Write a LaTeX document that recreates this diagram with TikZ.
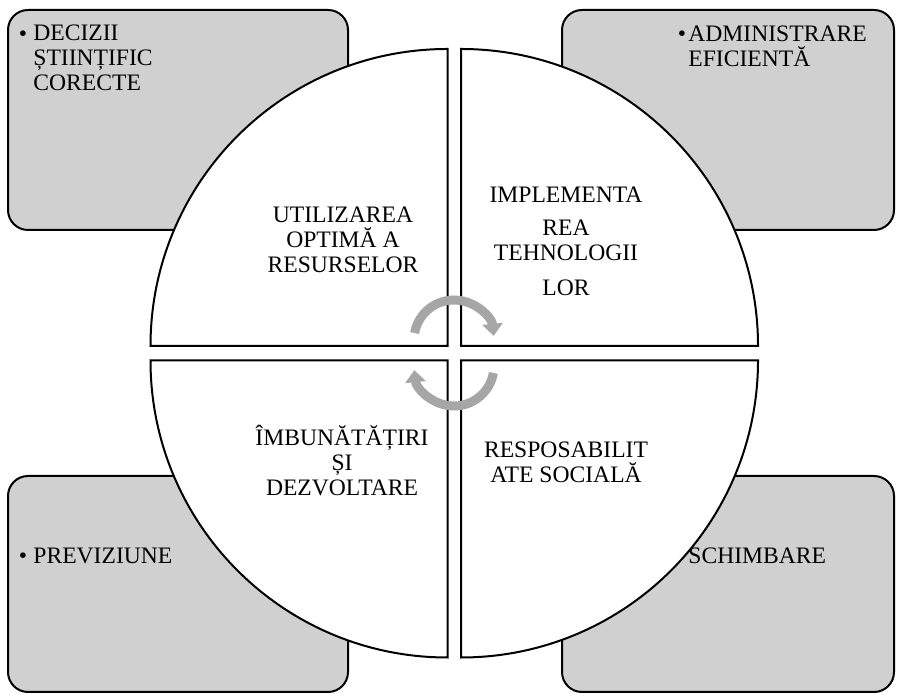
\documentclass[tikz,border=0pt]{standalone}
\usepackage{fontspec}
\setmainfont{Liberation Serif}
\usetikzlibrary{arrows.meta}
\definecolor{boxgray}{RGB}{208,208,208}
\definecolor{arrowgray}{RGB}{166,166,166}
\tikzset{
  cornerbox/.style={draw=black, line width=1pt, fill=boxgray, rounded corners=10pt},
  quadrant/.style={draw=black, line width=1pt, fill=white},
  cyc/.style={draw=arrowgray, line width=4.5pt, -{Triangle[width=10pt,length=6pt]}},
  txt/.style={inner sep=0pt, font=\fontsize{11.8}{12.5}\selectfont},
  ctxt/.style={txt, align=center, anchor=base},
  ltxt/.style={txt, align=left, anchor=base west},
  bul/.style={inner sep=0pt, font=\fontsize{11.8}{12.5}\selectfont, anchor=base}
}
\begin{document}
\begin{tikzpicture}[x=0.5pt,y=0.5pt]
\useasboundingbox (0,0) rectangle (897,694);
% corner boxes
\path[cornerbox] (8,464) rectangle (348,684);
\path[cornerbox] (562,464) rectangle (894,684);
\path[cornerbox] (8,2) rectangle (348,218);
\path[cornerbox] (562,2) rectangle (894,218);
% quadrants
\path[quadrant] (447.5,348) -- ++(-297,0) arc (180:90:297) -- cycle;
\path[quadrant] (461,348) -- ++(0,297) arc (90:0:297) -- cycle;
\path[quadrant] (447.5,333.5) -- ++(-297,0) arc (180:270:297) -- cycle;
\path[quadrant] (461,333.5) -- ++(0,-297) arc (270:360:297) -- cycle;
% cycle arrows
\draw[cyc] (454,354) ++(170:40) arc (170:6:40);
\draw[cyc] (454,328) ++(-10:40) arc (-10:-174:40);
% corner texts (base = last line)
\node[ltxt] (tl) at (33,603) {DECIZII\\ȘTIINȚIFIC\\CORECTE};
\node[bul] (tlb) at (23,652) {\textbullet};
\node[ltxt] (tr) at (688,627) {ADMINISTRARE\\EFICIENTĂ};
\node[bul] (trb) at (682,652) {\textbullet};
\node[ltxt] (bl) at (33,130) {PREVIZIUNE};
\node[bul] (blb) at (23,130) {\textbullet};
\node[ltxt] (br) at (688,130) {SCHIMBARE};
% quadrant texts
\node[ctxt] (q1) at (343,421) {UTILIZAREA\\OPTIMĂ A\\RESURSELOR};
\node[ctxt] (q2) at (566,398) {IMPLEMENTA\\[4pt]REA\\TEHNOLOGII\\[5pt]LOR};
\node[ctxt] (q3) at (342,198) {ÎMBUNĂTĂȚIRI\\ȘI\\DEZVOLTARE};
\node[ctxt] (q4) at (566,211) {RESPOSABILIT\\ATE SOCIALĂ};
\end{tikzpicture}
\end{document}
